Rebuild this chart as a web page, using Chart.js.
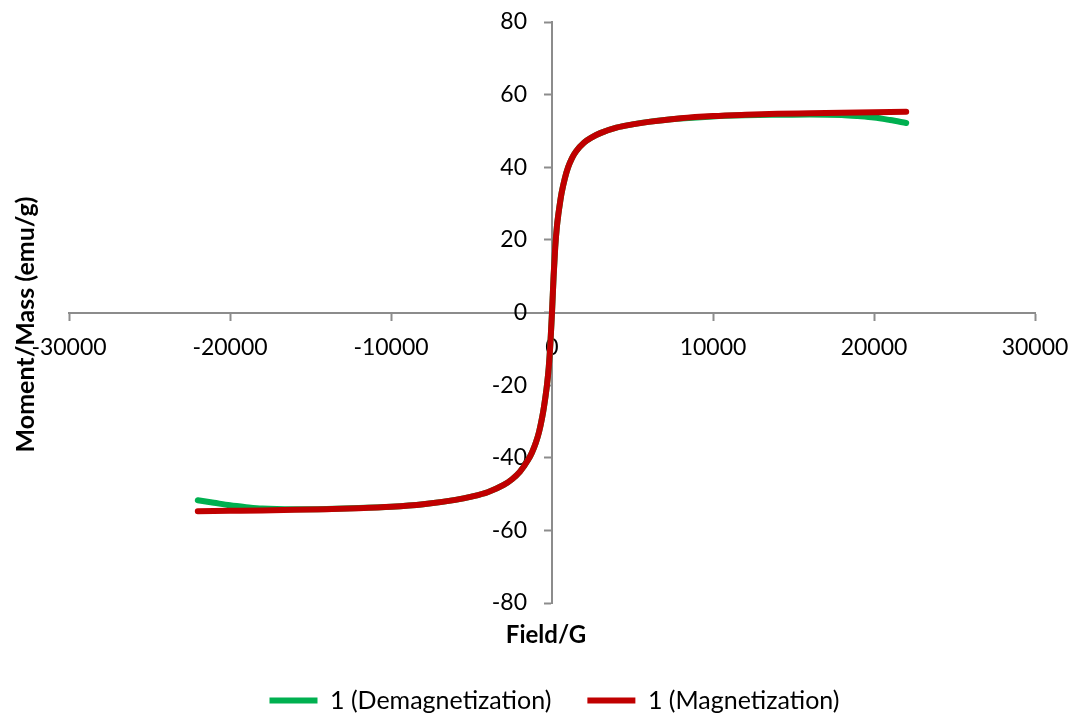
<!DOCTYPE html>
<html>
<head>
<meta charset="utf-8">
<title>Hysteresis loop</title>
<script src="https://cdn.jsdelivr.net/npm/chart.js@4.4.1/dist/chart.umd.min.js"></script>
<style>
  html, body { margin: 0; padding: 0; background: #fff; }
  #wrap { width: 1073px; height: 713px; }
</style>
</head>
<body>
<div id="wrap"><canvas id="c" width="1073" height="713"></canvas></div>
<script>
// Applied field (G) and mass magnetisation (emu/g)
const fieldMag = [-22000, -20000, -18000, -16000, -14000, -12000, -10000, -8000, -6000, -5000, -4000, -3000, -2500, -2000, -1500, -1250, -1000, -800, -600, -500, -400, -300, -200, -100, 0, 100, 200, 300, 400, 500, 600, 800, 1000, 1250, 1500, 2000, 2500, 3000, 4000, 5000, 6000, 8000, 10000, 12000, 14000, 16000, 18000, 20000, 22000];
const momentMag = [-54.7, -54.6, -54.5, -54.35, -54.15, -53.9, -53.5, -52.8, -51.6, -50.7, -49.5, -47.5, -46.0, -43.9, -40.7, -38.6, -35.8, -32.8, -28.6, -26.0, -23.0, -19.5, -15.0, -8.5, 0, 10.0, 18.0, 23.5, 27.2, 30.3, 33.0, 37.0, 40.0, 42.6, 44.4, 46.8, 48.3, 49.4, 50.9, 51.8, 52.5, 53.5, 54.1, 54.45, 54.7, 54.85, 55.0, 55.15, 55.3];

const fieldDemag = [-22000, -21000, -20000, -19000, -18000, -16000, -14000, -12000, -10000, -8000, -6000, -5000, -4000, -3000, -2500, -2000, -1500, -1250, -1000, -800, -600, -500, -400, -300, -200, -100, 0, 100, 200, 300, 400, 500, 600, 800, 1000, 1250, 1500, 2000, 2500, 3000, 4000, 5000, 6000, 8000, 10000, 12000, 14000, 16000, 18000, 19000, 20000, 21000, 22000];
const momentDemag = [-51.7, -52.4, -53.1, -53.6, -54.0, -54.2, -54.1, -53.85, -53.5, -52.8, -51.6, -50.7, -49.5, -47.5, -46.0, -43.9, -40.7, -38.6, -35.8, -32.8, -28.6, -26.0, -23.0, -19.5, -15.0, -8.5, 0, 10.0, 18.0, 23.5, 27.2, 30.3, 33.0, 37.0, 40.0, 42.6, 44.4, 46.8, 48.3, 49.4, 50.9, 51.8, 52.5, 53.4, 54.0, 54.3, 54.45, 54.55, 54.4, 54.1, 53.7, 53.0, 52.2];

const seriesNames = ['1 (Demagnetization)', '1 (Magnetization)'];
const fieldTicks = [-30000, -20000, -10000, 0, 10000, 20000, 30000];
const momentTicks = [-80, -60, -40, -20, 0, 20, 40, 60, 80];

const toPoints = (xs, ys) => xs.map((x, i) => ({ x: x, y: ys[i] }));

Chart.defaults.font.family = 'Lato, "Liberation Sans", sans-serif';
Chart.defaults.color = '#000';

const axisGrey = '#8c8c8c';

// Axes crossing at the origin take no layout room of their own
const centreAxisFit = (s) => {
  if (s.isHorizontal()) { s.height = 0; } else { s.width = 0; }
  s.paddingTop = 0; s.paddingBottom = 0; s.paddingLeft = 0; s.paddingRight = 0;
};

// Small offsets for the legend row and the two axis titles once layout is done
const nudgeBoxes = {
  id: 'nudgeBoxes',
  afterLayout(chart) {
    const lg = chart.legend;
    if (lg) { lg.left += 37; lg.right += 37; }
    const yt = chart.scales.yTitle;
    if (yt) { yt.top += 12; yt.bottom += 12; }
    const xt = chart.scales.xTitle;
    if (xt) { xt.left -= 6; xt.right -= 6; }
  }
};

new Chart(document.getElementById('c'), {
  type: 'scatter',
  data: {
    datasets: [
      {
        label: seriesNames[0],
        data: toPoints(fieldDemag, momentDemag),
        showLine: true,
        borderColor: '#00b050',
        backgroundColor: '#00b050',
        borderWidth: 6,
        borderCapStyle: 'round',
        borderJoinStyle: 'round',
        pointRadius: 0,
        cubicInterpolationMode: 'monotone',
        order: 1
      },
      {
        label: seriesNames[1],
        data: toPoints(fieldMag, momentMag),
        showLine: true,
        borderColor: '#c00000',
        backgroundColor: '#c00000',
        borderWidth: 6,
        borderCapStyle: 'round',
        borderJoinStyle: 'round',
        pointRadius: 0,
        cubicInterpolationMode: 'monotone',
        order: 0
      }
    ]
  },
  plugins: [nudgeBoxes],
  options: {
    responsive: false,
    animation: false,
    layout: { padding: { top: 22, right: 38, left: 0, bottom: -10 } },
    plugins: {
      tooltip: { enabled: false },
      legend: {
        position: 'bottom',
        labels: {
          usePointStyle: true,
          pointStyle: 'line',
          pointStyleWidth: 48,
          boxHeight: 22,
          padding: 36,
          font: { size: 25 },
          sort: (a, b) => a.datasetIndex - b.datasetIndex
        }
      }
    },
    scales: {
      x: {
        type: 'linear',
        position: 'center',
        min: -30000,
        max: 30000,
        afterBuildTicks: (s) => { s.ticks = fieldTicks.map(v => ({ value: v })); },
        afterFit: centreAxisFit,
        border: { display: true, color: axisGrey, width: 2 },
        grid: { drawOnChartArea: false, drawTicks: true, tickLength: 7, tickWidth: 2, color: axisGrey },
        ticks: { font: { size: 23 }, padding: 14, maxRotation: 0, autoSkip: false, callback: (v) => String(v) }
      },
      y: {
        type: 'linear',
        position: 'center',
        min: -80,
        max: 80,
        afterBuildTicks: (s) => { s.ticks = momentTicks.map(v => ({ value: v })); },
        afterFit: centreAxisFit,
        border: { display: true, color: axisGrey, width: 2 },
        grid: { drawOnChartArea: false, drawTicks: true, tickLength: 7, tickWidth: 2, color: axisGrey },
        ticks: { font: { size: 23 }, padding: 18, autoSkip: false, callback: (v) => String(v) }
      },
      xTitle: {
        type: 'linear',
        position: 'bottom',
        afterFit: (s) => { s.height = 49; },
        border: { display: false },
        grid: { display: false, drawTicks: false },
        ticks: { display: false },
        title: { display: true, text: 'Field/G', font: { size: 24, weight: 'bold' }, padding: { top: 0, bottom: 2 } }
      },
      yTitle: {
        type: 'linear',
        position: 'left',
        afterFit: (s) => { s.width = 69; },
        border: { display: false },
        grid: { display: false, drawTicks: false },
        ticks: { display: false },
        title: { display: true, text: 'Moment/Mass (emu/g)', font: { size: 25, weight: 'bold' }, padding: { top: 11, bottom: 0 } }
      }
    }
  }
});
</script>
</body>
</html>
